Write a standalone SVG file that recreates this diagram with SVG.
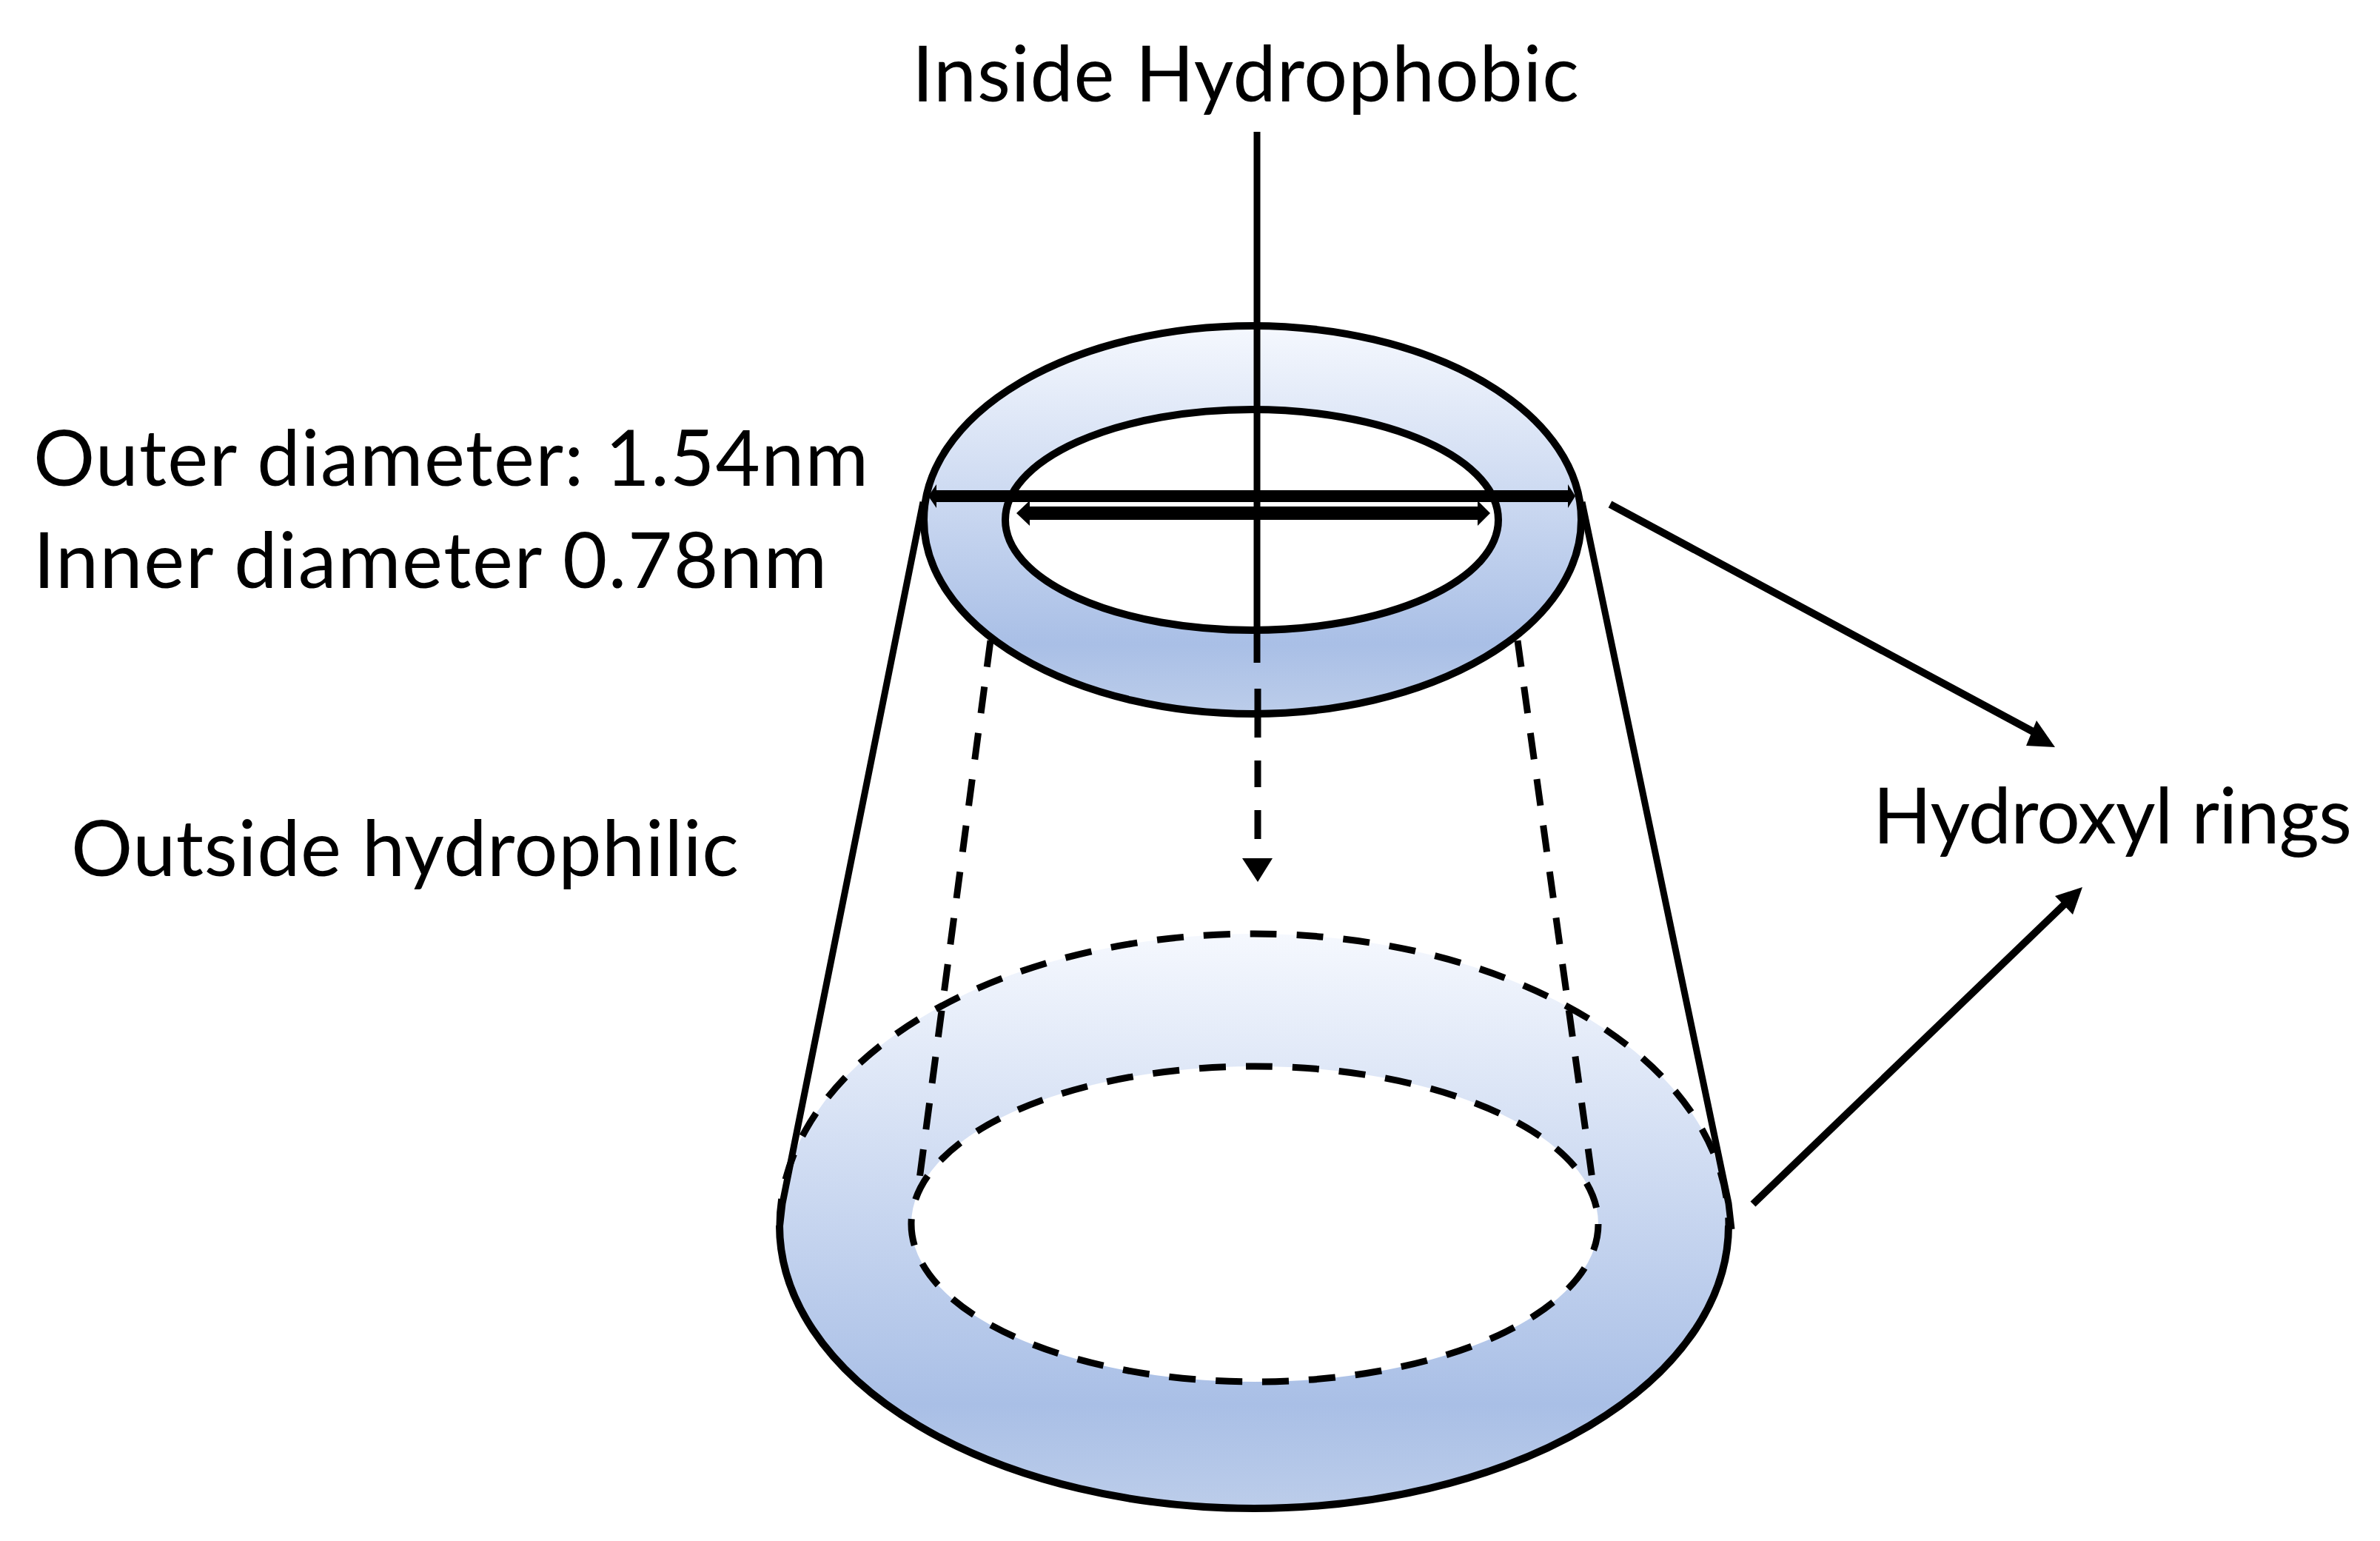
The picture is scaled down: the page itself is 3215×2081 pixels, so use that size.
<svg xmlns="http://www.w3.org/2000/svg" width="3215" height="2081" viewBox="0 0 3215 2081">
<style>
text{font-family:"Lato","Liberation Sans",sans-serif;font-size:104px;fill:#000}
.s{fill:none;stroke:#000;stroke-width:10}
.t{fill:none;stroke:#000;stroke-width:9}
.d{fill:none;stroke:#000;stroke-width:9;stroke-dasharray:36 27}
.k{fill:#000;stroke:none}
</style>
<defs>
<linearGradient id="g" x1="0" y1="0" x2="0" y2="1">
<stop offset="0" stop-color="#f5f8fe"/>
<stop offset="0.82" stop-color="#a9bfe6"/>
<stop offset="1" stop-color="#bccdea"/>
</linearGradient>
</defs>
<rect width="3215" height="2081" fill="#fff"/>
<g id="bottom-ring">
<path fill="url(#g)" fill-rule="evenodd" d="M1053 1655a641 394 0 0 1 1282 0a641 382 0 0 1-1282 0ZM1231 1653a464 213 0 1 0 928 0a464 213 0 1 0-928 0Z"/>
<path class="s" d="M1053 1655a641 382 0 0 0 1282 0"/>
<path class="d" d="M1053 1655a641 394 0 0 1 1282 0"/>
<ellipse class="d" cx="1695" cy="1653" rx="464" ry="213"/>
</g>
<g id="top-ring">
<path fill="url(#g)" fill-rule="evenodd" d="M1248 702a444 262 0 1 0 888 0a444 262 0 1 0-888 0ZM1358 702a333 149 0 1 0 666 0a333 149 0 1 0-666 0Z"/>
<ellipse class="s" cx="1692" cy="702" rx="444" ry="262"/>
<ellipse class="s" cx="1691" cy="702" rx="333" ry="149"/>
</g>
<g id="connectors">
<path class="t" d="M1247 678L1057 1625L1053 1660M2137 678L2335 1625L2339 1660"/>
<path class="d" d="M1338 865L1241 1600M2050 865L2152 1600"/>
<path class="t" d="M1698 178V895"/>
<path class="t" d="M1699 930V996M1699 1027V1063M1699 1094V1133"/>
<path class="k" d="M1678 1159H1719L1699 1191Z"/>
<path class="k" d="M1265 662H2118V654L2128 670L2118 686V678H1265V686L1254 670L1265 654Z"/>
<path class="k" d="M1391 684H1996V676L2013 693L1996 710V702H1391V710L1373 693L1391 676Z"/>
<path class="s" d="M2175 681L2750 990"/>
<path class="k" d="M2751 973L2737 1007L2776 1009Z"/>
<path class="s" d="M2368 1626L2790 1220"/>
<path class="k" d="M2776 1210L2800 1235L2813 1198Z"/>
</g>
<g id="labels">
<text x="1232" y="137" textLength="901">Inside Hydrophobic</text>
<text x="45" y="656" textLength="1128">Outer diameter: 1.54nm</text>
<text x="45" y="794" textLength="1072">Inner diameter 0.78nm</text>
<text x="96" y="1183" textLength="902">Outside hydrophilic</text>
<text x="2530" y="1139" textLength="647">Hydroxyl rings</text>
</g>
</svg>
